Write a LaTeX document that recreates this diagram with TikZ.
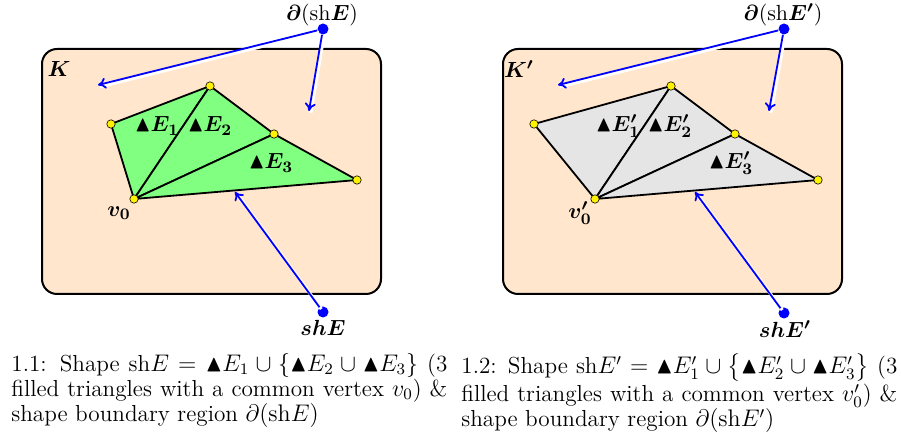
\documentclass[tikz,border=0pt]{standalone}
\usepackage{amsmath,amssymb,bm}
\usetikzlibrary{arrows.meta}
\definecolor{peach}{HTML}{FFE6CC}
\definecolor{lgreen}{HTML}{80FF80}
\definecolor{lgray}{HTML}{E5E5E5}

\begin{document}
\begin{tikzpicture}[x=0.5pt, y=-0.5pt, >={To[length=4pt,width=5.5pt]},
  regionbox/.style={draw=black, line width=1pt, rounded corners=7.5pt, fill=peach},
  tri/.style={draw=black, line width=0.9pt, line join=round},
  vtx/.style={circle, draw=black, line width=0.3pt, fill=yellow, inner sep=0pt, minimum size=4.2pt},
  src/.style={circle, fill=blue, inner sep=0pt, minimum size=5.5pt},
  whiteline/.style={draw=white, line width=1.6pt, transform canvas={shift={(0.9pt,-0.9pt)}}},
  ptr/.style={->, draw=blue, line width=0.9pt},
  lab/.style={inner sep=0pt, font=\fontsize{11}{13}\selectfont},
  captext/.style={text width=218pt, align=justify, anchor=north west, inner sep=0pt,
    font=\fontsize{11.6}{12.5}\selectfont}]
\useasboundingbox (0,0) rectangle (901,432);

% ---------------- left panel: shape shE
\node[regionbox, minimum width=169.5pt, minimum height=122.5pt, anchor=north west] (K) at (41,48) {};
\coordinate (L0) at (134,199);
\coordinate (L1) at (111,124);
\coordinate (L2) at (210,86);
\coordinate (L3) at (274,134);
\coordinate (L4) at (357,180);
\filldraw[tri, fill=lgreen] (L0) -- (L1) -- (L2) -- cycle;
\filldraw[tri, fill=lgreen] (L0) -- (L2) -- (L3) -- cycle;
\filldraw[tri, fill=lgreen] (L0) -- (L3) -- (L4) -- cycle;
\foreach \p in {L0,L1,L2,L3,L4}
  \node[vtx] (\p-dot) at (\p) {};
\node[lab] (KL) at (59,69) {$\boldsymbol{K}$};
\node[lab] (v0L) at (119,213) {$\boldsymbol{v_0}$};
\node[lab] (E1L) at (157,126) {$\blacktriangle\boldsymbol{E_1}$};
\node[lab] (E2L) at (210,126) {$\blacktriangle\boldsymbol{E_2}$};
\node[lab] (E3L) at (271,163) {$\blacktriangle\boldsymbol{E_3}$};

% boundary pointers
\node[lab] (bdL) at (322,15) {$\boldsymbol{\partial}(\mathrm{sh}\boldsymbol{E})$};
\node[src] (bdLdot) at (323,29) {};
\coordinate (bdLa) at (98,85);
\coordinate (bdLb) at (309,111);
\draw[whiteline] (bdLdot) -- (bdLa);
\draw[whiteline] (bdLdot) -- (bdLb);
\draw[ptr] (bdLdot) -- (bdLa);
\draw[ptr] (bdLdot) -- (bdLb);
% shape pointer
\node[src] (shLdot) at (323,312) {};
\node[lab] (shL) at (323,328) {$\boldsymbol{shE}$};
\coordinate (shLa) at (235,192);
\draw[whiteline] (shLdot) -- (shLa);
\draw[ptr] (shLdot) -- (shLa);

\node[captext] (capL) at (11,353)
  {\strut 1.1: Shape sh$E$ $=\blacktriangle E_1\cup\{\blacktriangle E_2\cup\blacktriangle E_3\}$ (3 filled triangles with a common vertex $v_0$) \& shape boundary region $\partial(\mathrm{sh}E)$};

% ---------------- right panel: shape shE'
\node[regionbox, minimum width=169.5pt, minimum height=122.5pt, anchor=north west] (Kp) at (502,48) {};
\coordinate (R0) at (595,199);
\coordinate (R1) at (534,124);
\coordinate (R2) at (671,86);
\coordinate (R3) at (735,134);
\coordinate (R4) at (818,180);
\filldraw[tri, fill=lgray] (R0) -- (R1) -- (R2) -- cycle;
\filldraw[tri, fill=lgray] (R0) -- (R2) -- (R3) -- cycle;
\filldraw[tri, fill=lgray] (R0) -- (R3) -- (R4) -- cycle;
\foreach \p in {R0,R1,R2,R3,R4}
  \node[vtx] (\p-dot) at (\p) {};
\node[lab] (KR) at (519,69) {$\boldsymbol{K'}$};
\node[lab] (v0R) at (580,213) {$\boldsymbol{v'_0}$};
\node[lab] (E1R) at (618,126) {$\blacktriangle\boldsymbol{E'_1}$};
\node[lab] (E2R) at (670,126) {$\blacktriangle\boldsymbol{E'_2}$};
\node[lab] (E3R) at (731,163) {$\blacktriangle\boldsymbol{E'_3}$};

% boundary pointers
\node[lab] (bdR) at (783,15) {$\boldsymbol{\partial}(\mathrm{sh}\boldsymbol{E'})$};
\node[src] (bdRdot) at (784,29) {};
\coordinate (bdRa) at (558,85);
\coordinate (bdRb) at (769,111);
\draw[whiteline] (bdRdot) -- (bdRa);
\draw[whiteline] (bdRdot) -- (bdRb);
\draw[ptr] (bdRdot) -- (bdRa);
\draw[ptr] (bdRdot) -- (bdRb);
% shape pointer
\node[src] (shRdot) at (784,313) {};
\node[lab] (shR) at (785,329) {$\boldsymbol{shE'}$};
\coordinate (shRa) at (695,192);
\draw[whiteline] (shRdot) -- (shRa);
\draw[ptr] (shRdot) -- (shRa);

\node[captext] (capR) at (461,353)
  {\strut 1.2: Shape sh$E'$ $=\blacktriangle E'_1\cup\bigl\{\blacktriangle E'_2\cup\blacktriangle E'_3\bigr\}$ (3 filled triangles with a common vertex $v'_0$) \& shape boundary region $\partial(\mathrm{sh}E')$};
\end{tikzpicture}
\end{document}
